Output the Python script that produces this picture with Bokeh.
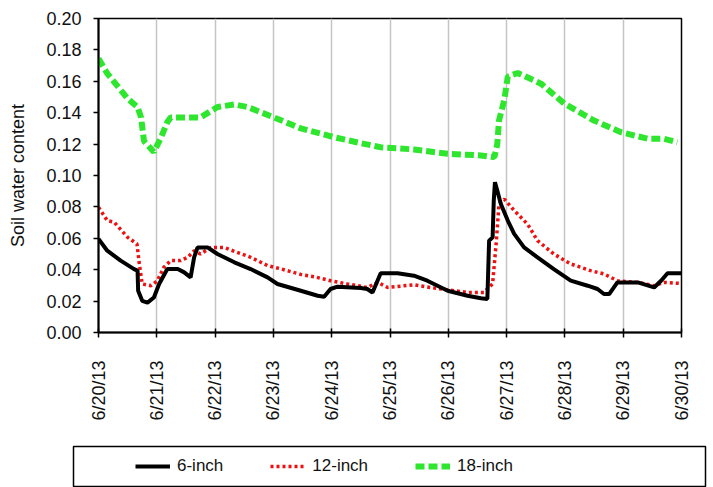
from bokeh.plotting import figure
from bokeh.layouts import column, row
from bokeh.models import (Range1d, FixedTicker, NumeralTickFormatter, Legend,
                          LegendItem)
from bokeh.embed import file_html
from bokeh.resources import INLINE
import math

# ---- data (x = days after 6/20/13 00:00) ----
date_labels = ["6/20/13", "6/21/13", "6/22/13", "6/23/13", "6/24/13", "6/25/13",
               "6/26/13", "6/27/13", "6/28/13", "6/29/13", "6/30/13"]
y_ticks = [0.00, 0.02, 0.04, 0.06, 0.08, 0.10, 0.12, 0.14, 0.16, 0.18, 0.20]

d6 = [0, 0.15, 0.38, 0.61, 0.67, 0.68, 0.75, 0.84, 0.95, 1.04, 1.18, 1.36, 1.47,
      1.58, 1.64, 1.70, 1.87, 2.04, 2.33, 2.61, 2.90, 3.07, 3.47, 3.76, 3.87, 3.98,
      4.10, 4.50, 4.61, 4.70, 4.84, 5.13, 5.41, 5.64, 5.99, 6.33, 6.56, 6.67, 6.70,
      6.76, 6.78, 6.80, 6.84, 6.90, 7.02, 7.13, 7.30, 7.53, 7.81, 8.10, 8.39, 8.56,
      8.67, 8.76, 8.90, 9.25, 9.53, 9.65, 9.76, 10.0]
v6 = [0.0596, 0.0521, 0.0458, 0.0404, 0.0394, 0.0266, 0.0202, 0.0190, 0.0223, 0.0309,
      0.0404, 0.0404, 0.0383, 0.0351, 0.0479, 0.0542, 0.0542, 0.0500, 0.0447, 0.0404,
      0.0351, 0.0309, 0.0266, 0.0234, 0.0228, 0.0277, 0.0292, 0.0283, 0.0277, 0.0255,
      0.0377, 0.0377, 0.0362, 0.0330, 0.0266, 0.0234, 0.0218, 0.0213, 0.0585, 0.0606,
      0.0840, 0.0957, 0.0904, 0.0820, 0.0713, 0.0628, 0.0542, 0.0479, 0.0404, 0.0330,
      0.0298, 0.0277, 0.0245, 0.0245, 0.0319, 0.0319, 0.0287, 0.0330, 0.0377, 0.0377]

d12 = [0, 0.15, 0.27, 0.50, 0.66, 0.70, 0.75, 0.90, 1.01, 1.12, 1.24, 1.41, 1.53,
       1.64, 1.75, 1.93, 2.15, 2.61, 2.90, 3.13, 3.47, 3.70, 3.98, 4.27, 4.61, 4.79,
       4.96, 5.41, 5.76, 6.33, 6.61, 6.76, 6.82, 6.87, 6.96, 7.13, 7.36, 7.53, 7.81,
       8.10, 8.44, 8.67, 8.90, 9.25, 9.53, 9.70, 9.96]
v12 = [0.0798, 0.0713, 0.0702, 0.0606, 0.0564, 0.0437, 0.0309, 0.0298, 0.0330, 0.0415,
       0.0458, 0.0458, 0.0479, 0.0520, 0.0500, 0.0542, 0.0542, 0.0479, 0.0426, 0.0405,
       0.0370, 0.0355, 0.0330, 0.0309, 0.0287, 0.0319, 0.0287, 0.0304, 0.0283, 0.0255,
       0.0255, 0.0310, 0.0564, 0.0820, 0.0850, 0.0777, 0.0690, 0.0585, 0.0500, 0.0437,
       0.0394, 0.0373, 0.0330, 0.0319, 0.0298, 0.0319, 0.0313]

d18 = [0, 0.15, 0.26, 0.50, 0.67, 0.73, 0.78, 0.95, 1.07, 1.18, 1.24, 1.75, 2.04,
       2.33, 2.56, 3.01, 3.47, 4.04, 4.50, 4.84, 5.41, 5.99, 6.56, 6.79, 6.84, 6.87,
       6.96, 7.02, 7.19, 7.59, 7.99, 8.50, 8.96, 9.42, 9.70, 9.93]
v18 = [0.1745, 0.1650, 0.1600, 0.1490, 0.1436, 0.1370, 0.1220, 0.1150, 0.1240, 0.1340,
       0.1370, 0.1370, 0.1436, 0.1453, 0.1436, 0.1370, 0.1300, 0.1244, 0.1206, 0.1180,
       0.1166, 0.1138, 0.1128, 0.1117, 0.1200, 0.1350, 0.1480, 0.1630, 0.1653, 0.1585,
       0.1458, 0.1350, 0.1276, 0.1234, 0.1234, 0.1212]

series_names = ["6-inch", "12-inch", "18-inch"]

FONT = "Liberation Sans"
STYLE6 = dict(line_color="black", line_width=4)
STYLE12 = dict(line_color="#ee1111", line_width=3.5, line_dash="3 3")
STYLE18 = dict(line_color="#2ee62e", line_width=6, line_dash="9 4")

# ---------------- main chart ----------------
p = figure(width=713, height=440, x_range=Range1d(0, 10), y_range=Range1d(0, 0.2),
           output_backend="svg", toolbar_location=None,
           min_border_left=98, min_border_right=32, min_border_top=18,
           min_border_bottom=108)

p.background_fill_color = "white"
p.border_fill_color = "white"
p.outline_line_color = "black"
p.outline_line_width = 1.5

p.ygrid.grid_line_color = None
p.xgrid.grid_line_color = "#c4c4c4"
p.xgrid.grid_line_width = 1.5

p.xaxis.ticker = FixedTicker(ticks=list(range(len(date_labels))))
p.xaxis.major_label_overrides = {i: lab for i, lab in enumerate(date_labels)}
p.xaxis.major_label_orientation = math.pi / 2
p.xaxis.major_label_standoff = 23
p.xaxis.major_tick_in = 4
p.xaxis.major_tick_out = 5
p.xaxis.minor_tick_line_color = None

p.yaxis.ticker = FixedTicker(ticks=y_ticks)
p.yaxis.formatter = NumeralTickFormatter(format="0.00")
p.yaxis.major_tick_in = 0
p.yaxis.major_tick_out = 5
p.yaxis.minor_tick_line_color = None
p.yaxis.major_label_standoff = 12
p.yaxis.axis_label = "Soil water content"
p.yaxis.axis_label_standoff = 15
p.yaxis.axis_label_text_font = FONT
p.yaxis.axis_label_text_font_size = "18px"
p.yaxis.axis_label_text_font_style = "normal"
p.yaxis.axis_label_text_color = "#111111"

for ax in (p.xaxis, p.yaxis):
    ax.axis_line_color = "black"
    ax.axis_line_width = 2
    ax.major_tick_line_color = "black"
    ax.major_tick_line_width = 1.5
    ax.major_label_text_font = FONT
    ax.major_label_text_color = "#111111"
p.xaxis.major_label_text_font_size = "18px"
p.yaxis.major_label_text_font_size = "18px"

p.line(d18, v18, **STYLE18)
p.line(d12, v12, **STYLE12)
p.line(d6, v6, **STYLE6)

# ---------------- legend strip (its frame is the legend box) ----------------
pl = figure(width=713, height=47, x_range=Range1d(0, 1), y_range=Range1d(0, 1),
            x_axis_type=None, y_axis_type=None,
            output_backend="svg", toolbar_location=None,
            min_border_left=73, min_border_right=8, min_border_top=6,
            min_border_bottom=0)
pl.outline_line_color = "black"
pl.outline_line_width = 1.5
pl.background_fill_color = "white"
pl.border_fill_color = "white"

l6 = pl.line(d6, v6, visible=False, **STYLE6)
l12 = pl.line(d12, v12, visible=False, **STYLE12)
l18 = pl.line(d18, v18, visible=False, **STYLE18)

legend = Legend(items=[LegendItem(label=series_names[0], renderers=[l6]),
                       LegendItem(label=series_names[1], renderers=[l12]),
                       LegendItem(label=series_names[2], renderers=[l18])],
                orientation="horizontal", location=(62, 11), margin=0,
                glyph_width=35, label_standoff=7, spacing=47, padding=0,
                label_text_font=FONT, label_text_font_size="17px",
                label_text_color="#111111",
                border_line_color=None, background_fill_alpha=0,
                inactive_fill_alpha=0)
pl.add_layout(legend, "center")

layout = column(p, row(pl, spacing=0), spacing=0)
open("out.html", "w").write(file_html(layout, INLINE))
